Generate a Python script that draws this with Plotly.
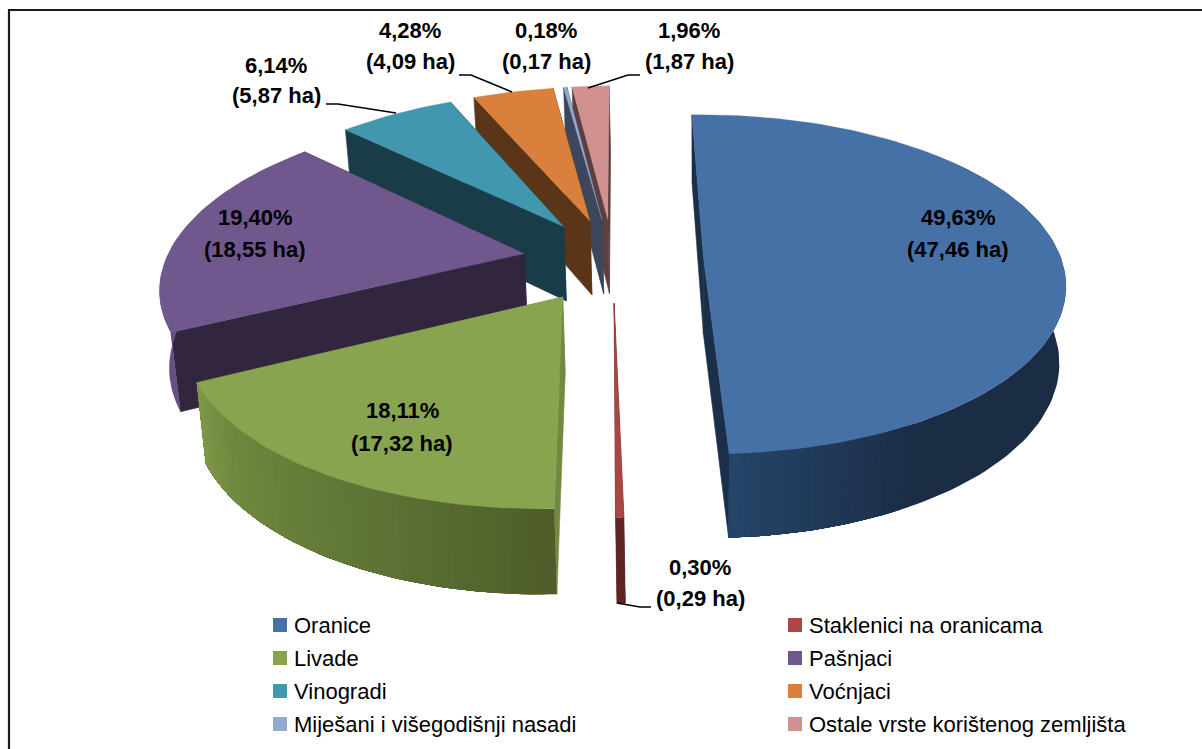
import math
import plotly.graph_objects as go

# ---- data -------------------------------------------------------------
categories = ["Oranice", "Staklenici na oranicama", "Livade", "Pašnjaci",
              "Vinogradi", "Voćnjaci", "Miješani i višegodišnji nasadi",
              "Ostale vrste korištenog zemljišta"]
pct_values = [49.63, 0.30, 18.11, 19.40, 6.14, 4.28, 0.18, 1.96]
ha_values = [47.46, 0.29, 17.32, 18.55, 5.87, 4.09, 0.17, 1.87]

# ---- style ------------------------------------------------------------
top_colors = ["#4671A6", "#AA4643", "#88A44E", "#70588E", "#4197AE", "#D9813C", "#93A9CF", "#D09190"]
radial_colors = ["#1B2F49", "#5E2523", "#72893F", "#32263F", "#1A3C49", "#5A3517", "#3C465C", "#5E3F3F"]
# (angle in degrees, colour) stops for the curved outer wall
wall_stops = [
    [(90, "#1B2D45"), (150, "#1B2D45"), (178, "#25456A")],
    [(170, "#5E2523"), (180, "#5E2523")],
    [(178, "#4D5C2A"), (205, "#5F7535"), (230, "#6E883F"), (245, "#7F9A48")],
    [(240, "#654F85"), (290, "#654F85")],
    [(300, "#1A3C49"), (340, "#1A3C49")],
    [(330, "#5A3517"), (355, "#5A3517")],
    [(340, "#3C465C"), (360, "#3C465C")],
    [(340, "#5E3F3F"), (360, "#5E3F3F")],
]
draw_order = [7, 6, 5, 4, 3, 2, 1, 0]

# x centre, y of percent line, y of hectare line
label_pos = [(958, 217, 249), (700, 567, 598), (402, 410, 443), (255, 217, 249),
             (276, 65, 95), (410, 30, 61), (546, 30, 61), (689, 30, 61)]
legend_pos = [(280, 625), (795, 625), (280, 658), (795, 658), (280, 691), (795, 691), (280, 724), (795, 724)]
leaders = [
    [(617, 603), (640, 607), (651, 607)],
    [(326, 104), (338, 104), (396, 113)],
    [(459, 75), (471, 75), (512, 92)],
    [(640, 75), (628, 75), (588, 88)],
]
FONT = "Liberation Sans, Arial, sans-serif"

# ---- projection of the tilted, exploded pie ------------------------------
CX, CY, RA, RB, SHEAR, PERSP = 613, 259.7, 358, 166, -10, 0.155
VANISH, VANISH_X = 0.018, 700
PULL, ROT = 0.253, -1.5


def proj(x, y, low=False):
    w = 1 - PERSP * y
    u = CX + (RA * x + SHEAR * y) / w
    v = CY + RB * y / w
    if low:
        u -= (u - VANISH_X) * VANISH
        v += 76 + 8 * y
    return u, v


def hex_rgb(c):
    return [int(c[i:i + 2], 16) for i in (1, 3, 5)]


def wall_color(stops, ang):
    if ang <= stops[0][0]:
        return stops[0][1]
    for (a0, c0), (a1, c1) in zip(stops, stops[1:]):
        if ang <= a1:
            t = (ang - a0) / (a1 - a0)
            r = [round(p + (q - p) * t) for p, q in zip(hex_rgb(c0), hex_rgb(c1))]
            return "#%02X%02X%02X" % tuple(r)
    return stops[-1][1]


def poly(points, color, edge=0.6):
    xs = [p[0] for p in points] + [points[0][0]]
    ys = [p[1] for p in points] + [points[0][1]]
    return go.Scatter(x=xs, y=ys, mode="lines", fill="toself", fillcolor=color,
                      line=dict(color=color, width=edge), hoverinfo="skip", showlegend=False)


fig = go.Figure()

total = sum(pct_values)
spans, start = [], ROT
for p in pct_values:
    sweep = 360 * p / total
    spans.append((start, start + sweep))
    start += sweep

for i in draw_order:
    a0, a1 = spans[i]
    mid = math.radians((a0 + a1) / 2)
    ox, oy = PULL * math.sin(mid), -PULL * math.cos(mid)
    n = max(2, int((a1 - a0) / 1.5))
    angs = [a0 + (a1 - a0) * j / n for j in range(n + 1)]
    rim = [(ox + math.sin(math.radians(t)), oy - math.cos(math.radians(t))) for t in angs]
    apex = (ox, oy)
    # radial cut faces
    for edge in (rim[0], rim[-1]):
        fig.add_trace(poly([proj(*apex), proj(*edge), proj(*edge, True), proj(*apex, True)], radial_colors[i]))
    # curved outer wall: overlapping colour bands, so no seams appear between them
    front = [j for j in range(n + 1) if math.cos(math.radians(angs[j])) < 0.7]
    last_col = None
    for j in front[:-1]:
        col = wall_color(wall_stops[i], (angs[j] + angs[j + 1]) / 2)
        if col == last_col:
            continue
        last_col = col
        band = [q for q in rim[j:front[-1] + 1]]
        pts = [proj(*q) for q in band] + [proj(*q, True) for q in reversed(band)]
        fig.add_trace(poly(pts, col, edge=0))
    # top face
    fig.add_trace(poly([proj(*apex)] + [proj(*q) for q in rim], top_colors[i], edge=0.3))

# leader lines
for pts in leaders:
    fig.add_trace(go.Scatter(x=[p[0] for p in pts], y=[p[1] for p in pts], mode="lines",
                             line=dict(color="#000000", width=1.6), hoverinfo="skip", showlegend=False))

# legend swatches and names
for name, color, (lx, ly) in zip(categories, top_colors, legend_pos):
    fig.add_trace(go.Scatter(x=[lx], y=[ly], mode="markers", hoverinfo="skip", showlegend=False,
                             marker=dict(symbol="square", size=14, color=color)))
    fig.add_annotation(x=lx + 12, y=ly, text=name, showarrow=False, xanchor="left", yanchor="middle",
                       font=dict(family=FONT, size=22, color="#000000"))

# data labels
for p, h, (lx, y1, y2) in zip(pct_values, ha_values, label_pos):
    for txt, ly in ((f"<b>{p:.2f}%</b>", y1), (f"<b>({h:.2f} ha)</b>", y2)):
        fig.add_annotation(x=lx, y=ly, text=txt.replace(".", ","), showarrow=False,
                           xanchor="center", yanchor="middle",
                           font=dict(family=FONT, size=22, color="#000000"))

fig.update_layout(
    width=1202, height=749, margin=dict(l=0, r=0, t=0, b=0),
    paper_bgcolor="#FFFFFF", plot_bgcolor="#FFFFFF", showlegend=False,
    xaxis=dict(range=[0, 1202], visible=False, fixedrange=True),
    yaxis=dict(range=[749, 0], visible=False, fixedrange=True),
    shapes=[
        dict(type="line", x0=8, x1=1202, y0=10, y1=10, line=dict(color="#1A1A1A", width=2.2)),
        dict(type="line", x0=9, x1=9, y0=10, y1=749, line=dict(color="#1A1A1A", width=2.2)),
    ],
)

fig.write_html("out.html", config={"displayModeBar": False},
               post_script="document.body.style.margin='0';document.body.style.overflow='hidden';")
